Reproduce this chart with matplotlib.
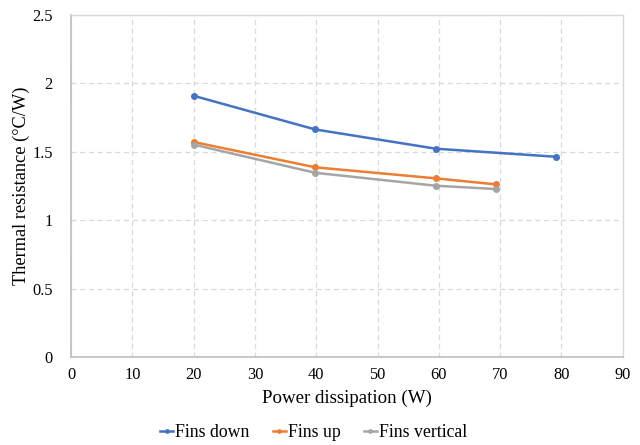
import matplotlib.pyplot as plt

# Thermal resistance vs. power dissipation for three fin orientations
power_down = [20, 39.8, 59.5, 79.1]
res_down = [1.91, 1.664, 1.523, 1.464]

power_up = [20, 39.8, 59.5, 69.3]
res_up = [1.572, 1.387, 1.306, 1.262]

power_vert = [20, 39.8, 59.5, 69.3]
res_vert = [1.553, 1.347, 1.252, 1.228]

x_ticks = list(range(0, 91, 10))
y_ticks = [0, 0.5, 1, 1.5, 2, 2.5]
y_labels = ['0', '0.5', '1', '1.5', '2', '2.5']

plt.rcParams['font.family'] = ['Liberation Serif', 'DejaVu Serif']

fig = plt.figure(figsize=(6.4, 4.45), dpi=100)
ax = fig.add_axes([0.111, 0.198, 0.862, 0.768])

ax.plot(power_down, res_down, color='#4472C4', marker='o', markersize=4, lw=1.8, label='Fins down')
ax.plot(power_up, res_up, color='#ED7D31', marker='o', markersize=4, lw=1.8, label='Fins up')
ax.plot(power_vert, res_vert, color='#A5A5A5', marker='o', markersize=4, lw=1.8, label='Fins vertical')

ax.set_xlim(0, 90)
ax.set_ylim(0, 2.5)
ax.set_xticks(x_ticks)
ax.set_yticks(y_ticks)
ax.set_yticklabels(y_labels)
ax.tick_params(length=0, labelsize=11.8, colors='#000000')
ax.tick_params(axis='x', pad=7)
ax.tick_params(axis='y', pad=13)

ax.grid(True, color='#D9D9D9', linestyle=(0, (4, 3)), linewidth=0.9)
ax.set_axisbelow(True)
for side in ['top', 'right']:
    ax.spines[side].set_color('#D9D9D9')
    ax.spines[side].set_linewidth(1.0)
for side in ['left', 'bottom']:
    ax.spines[side].set_color('#BFBFBF')
    ax.spines[side].set_linewidth(1.2)

ax.set_xlabel('Power dissipation (W)', fontsize=13.6, labelpad=5)
ax.set_ylabel('Thermal resistance (°C/W)', fontsize=13.2, labelpad=1.5)

fig.legend(loc='center', bbox_to_anchor=(0.49, 0.028), ncol=3, frameon=False,
           fontsize=12.8, handlelength=0.75, columnspacing=1.3, handletextpad=0.1,
           markerscale=0.6)

fig.savefig('out.png', dpi=100)
